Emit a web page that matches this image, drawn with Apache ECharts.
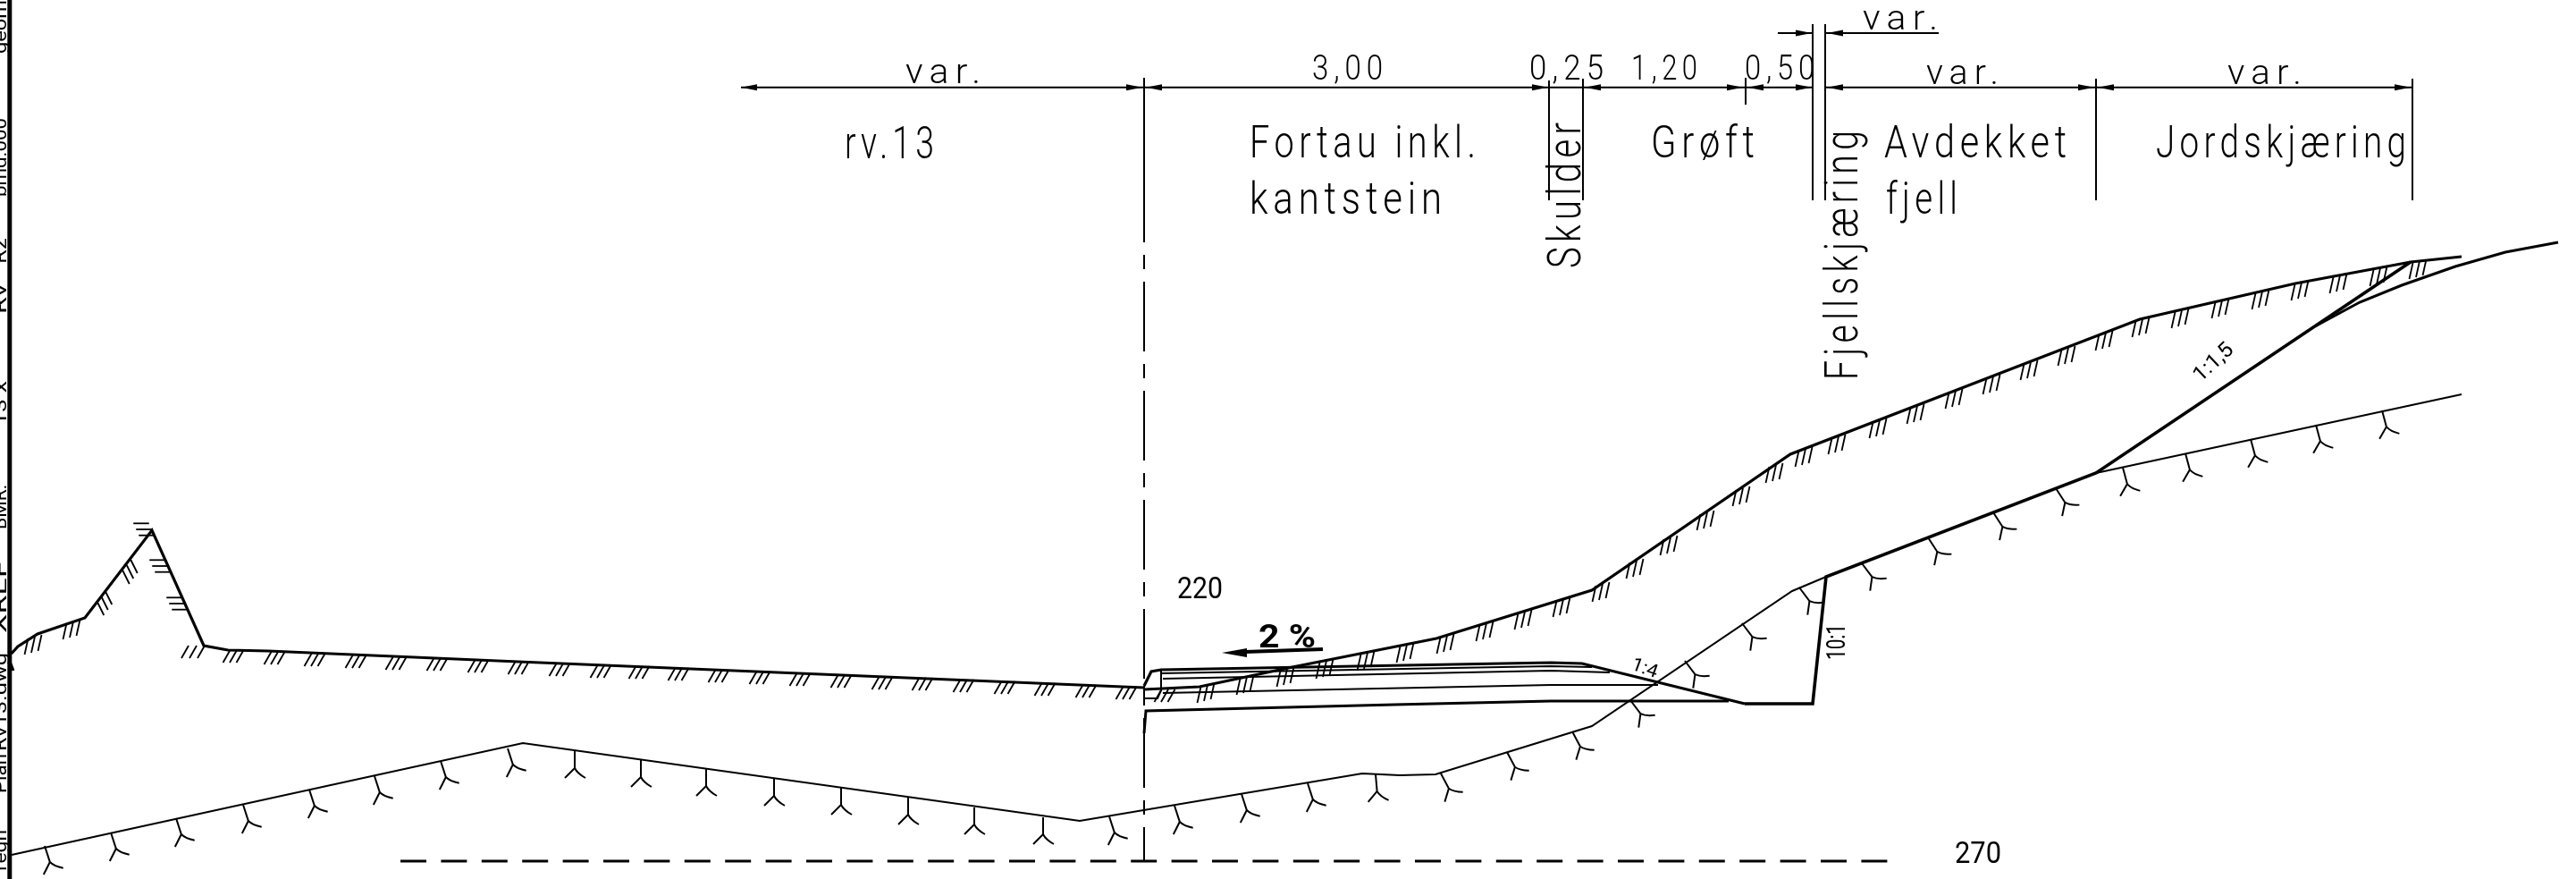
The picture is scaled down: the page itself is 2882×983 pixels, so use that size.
<!DOCTYPE html>
<html><head><meta charset="utf-8">
<style>html,body{margin:0;padding:0;background:#fff}#c{width:2882px;height:983px}</style>
<script src="https://cdn.jsdelivr.net/npm/echarts@6/dist/echarts.min.js"></script>
</head><body><div id="c"></div>
<script>
// ---- cross-section geometry (drawing units) ----
const existingGroundLeft = [[12.7,731],[20,723],[42,709],[95,691],[170,593],[228,722],[255,727],[300,728],[580,740],[1280,769]];
const existingGroundRight = [[1280,771],[1342,768],[1446,746],[1607,714],[1781,660],[2003,508],[2394,357],[2568,317],[2697,293],[2754,287]];
const existingSurfaceFar = [[2590,365],[2640,338],[2687,319],[2747,298],[2803,282],[2862,271]];
const rockLine = [[13,956],[585,831],[1208,918],[1524,865],[1566,867],[1606,866],[1781,812],[2005,661],[2043,645]];
const rockLineFar = [[2345,529],[2754,441]];
const cutSlope = [[1952,787],[2028,787],[2043,645],[2345,529],[2697,293]];
const roadTop = [[1280,767],[1288,751],[1299,749],[1735,741],[1770,742],[1952,787]];
const roadLayer1 = [[1298,753],[1735,745],[1781,746]];
const roadLayer2 = [[1301,759],[1735,750],[1801,752]];
const roadLayer3 = [[1301,775],[1735,766],[1855,766]];
const roadBottom = [[1280,820],[1282,795],[1560,788],[1735,784],[1934,784]];
const kerbBox = [[1280,767],[1280,781],[1295,781],[1299,772],[1299,750]];
const borderLine = [[10.8,0],[10.8,983]];
const borderMark = [[12,742],[15,750]];
const centreLine = [[1280,193],[1280,963]];
const baseDatum = [[448,963],[2114,963]];
const dimMain = [[829,97.7],[2028,97.7]];
const dimMainRight = [[2042,97.7],[2699,97.7]];
const dimUpperLeft = [[1989,37],[2028,37]];
const dimUpperRight = [[2042,37],[2169,37]];
const slopeArrow = [[1480,726],[1393,729]];
const extensionLines = [
  [[1280,87],[1280,224]],[[1733,90],[1733,224]],[[1771,88],[1771,224]],[[1953,87],[1953,117]],
  [[2028,27],[2028,224]],[[2042,27],[2042,224]],[[2345,88],[2345,224]],[[2699,88],[2699,224]]
];
// arrow heads: tip x, tip y, pointing direction (+1 right, -1 left)
const arrowTips = [[829,97.7,-1],[1278,97.7,1],[1282,97.7,-1],[1732,97.7,1],[1773,97.7,-1],[1950,97.7,1],[1955,97.7,-1],[2027,97.7,1],
  [2044,97.7,-1],[2343,97.7,1],[2347,97.7,-1],[2697,97.7,1],[2027,37,1],[2044,37,-1]];
const slopeArrowTip = [[1367,730,-1]];
// hatch marks on the existing ground
const hatchGentle = [[261,727],[307,729],[352,731],[398,733],[443,735],[489,736],[535,738],[580,740],[626,742],[672,744],[715,745],[759,747],[804,749],[850,751],[895,753],[941,755],[987,757],[1032,758],[1078,760],[1124,762],[1169,764],[1215,766],[1260,768],[1303,771]];
const hatchSlope = [[37,712],[80,695],[1349,766],[1393,757],[1438,748],[1482,739],[1528,730],[1572,721],[1617,711],[1661,697],[1704,684],[1747,670],[1791,653],[1829,627],[1867,601],[1908,573],[1948,546],[1985,520],[2018,502],[2055,488],[2101,470],[2143,454],[2186,437],[2228,421],[2270,405],[2312,389],[2354,372],[2395,357],[2439,347],[2484,336],[2529,326],[2573,316],[2616,308],[2661,300],[2705,292]];
const hatchSteep = [[117,667],[145.5,632]];
const hatchSideways = [[161,592],[179,633],[198,675]];
const hatchKnee = [[216,722]];
// root marks on the rock line
const rootsFalling = [[643,840],[717,850],[790,860],[866,871],[941,881],[1016,892],[1090,903],[1167,914]];
const rootsRising = [[50,946],[124,931],[197,915],[272,900],[346,883],[419,868],[493,851],[568,837],[1241,913],[1314,901],[1389,888],[1463,876]];
const rootsRisingMore = [[1612,865],[1686,841],[1759,818]];
const rootsLevel = [[1539,866]];
const rootsSteep = [[1824,783],[1885,739],[1949,697],[2013,657],[2083,630]];
const rootsCut = [[2157,601],[2230,573],[2300,546]];
const rootsFar = [[2375,523],[2445,507],[2518,491],[2591,475],[2665,459]];
// text
const textLabels = ['var.','rv.13','3,00','0,25','1,20','0,50','Fortau inkl.','kantstein','Grøft','Skulder','Fjellskjæring','Avdekket','fjell','Jordskjæring','var.','var.','var.','220','270','2 %','1:4','1:1,5','10:1','geom','bmd.000','Rz','Rv','13 x','BMR:','XREF','Rv13.dwg','Plan','Tegn'];
const textAnchors = [[1013,93],[945,177],[1468,89],[1711,89],[1825,89],[1952,89],[1398,176],[1398,239],[1847,176],[1768,300],[2078,425],[2108,176],[2110,239],[2412,176],[2155,94],[2492,94],[2084,33],[1317,669],[2187,965],[1408,724],[1824,748],[2462,428],[2064,738],[7,60],[7,220],[7,295],[7,351],[7,476],[7,592],[7,708],[7,840],[7,887],[7,978]];
// cap height, length, rotation (deg), weight
const textFit = [[28,84],[36,100],[28,79],[28,83],[28,74],[28,78],[36,253],[36,215],[36,116],[37,163,90],[37,279,90],[36,204],[36,80],[36,280],[28,81],[28,83],[28,84],[24,51,0,400],[24,52,0,400],[26,64,0,700],[15,30,-20,400],[17,52,43,400],[21,40,90,400],[14,60,90,400],[14,88,90,400],[14,29,90,400],[14,34,90,400],[14,50,90,400],[14,50,90,400],[14,81,90,400],[14,110,90,400],[14,44,90,400],[14,50,90,400]];

const FONT='Roboto', BASEW=300, INK='#000', SPACED=7;
const ctx=document.createElement('canvas').getContext('2d');
function fit(label,cap,len,w,ls){
  ctx.letterSpacing=ls+'px';
  ctx.font=w+' 100px '+FONT; ctx.textBaseline='middle';
  const H=ctx.measureText('H'); const off=H.actualBoundingBoxDescent;
  const capR=(H.actualBoundingBoxAscent+H.actualBoundingBoxDescent)/100;
  const fs=cap/capR;
  ctx.font=w+' '+fs+'px '+FONT;
  const m=ctx.measureText(label);
  return {fs,off:off*fs/100,sx:len/(m.width-ls)};
}
const chart=echarts.init(document.getElementById('c'),null,{renderer:'canvas'});
// The spaced labels get their own canvas layer, so the letter spacing of the drafting font stays on them alone.
const spacedLayer=chart.getZr().painter.getLayer(1);
if(spacedLayer&&spacedLayer.ctx)spacedLayer.ctx.letterSpacing=SPACED+'px';
function line(data,width,extra){return {type:'line',data,symbol:'none',silent:true,animation:false,clip:false,z:2,
  lineStyle:{width,color:INK,type:(extra&&extra.dash)||'solid',cap:'butt',join:'miter'}};}
function hatch(data,vec,step,width){return {type:'custom',data,silent:true,clip:false,animation:false,encode:{x:0,y:1},z:1,
  renderItem(p,api){const c=api.coord([api.value(0),api.value(1)]);const ch=[];
    for(let i=-1;i<=1;i++){const sx=c[0]-vec[0]/2+i*step[0],sy=c[1]+i*step[1];
      ch.push({type:'line',shape:{x1:sx,y1:sy,x2:sx+vec[0],y2:sy+vec[1]},style:{stroke:INK,lineWidth:width||1.8}});}
    return {type:'group',children:ch};}};}
function roots(data,tiltDeg){const t=tiltDeg*Math.PI/180,C=Math.cos(t),S=Math.sin(t);
  const r=(x,y)=>[x*C+y*S,-x*S+y*C];
  return {type:'custom',data,silent:true,clip:false,animation:false,encode:{x:0,y:1},z:1,
  renderItem(p,api){const c=api.coord([api.value(0),api.value(1)]);
    const P=(x,y)=>{const q=r(x,y);return [c[0]+q[0],c[1]+q[1]];};
    const st={stroke:INK,lineWidth:2,fill:null};
    const f=P(0,19),l=P(-11,30),rr=P(12,30),cp=P(0,9),cp2=P(3,25),o=P(0,0);
    return {type:'group',children:[
      {type:'bezierCurve',shape:{x1:o[0],y1:o[1],x2:f[0],y2:f[1],cpx1:cp[0],cpy1:cp[1]},style:st},
      {type:'bezierCurve',shape:{x1:f[0],y1:f[1],x2:rr[0],y2:rr[1],cpx1:cp2[0],cpy1:cp2[1]},style:st},
      {type:'line',shape:{x1:f[0],y1:f[1],x2:l[0],y2:l[1]},style:st}]};}};}
function arrows(data,len,half){return {type:'custom',data,silent:true,clip:false,animation:false,encode:{x:0,y:1},z:3,
  renderItem(p,api){const c=api.coord([api.value(0),api.value(1)]),d=api.value(2);
    return {type:'polygon',shape:{points:[[c[0],c[1]],[c[0]-d*len,c[1]-half],[c[0]-d*len,c[1]+half]]},style:{fill:INK}};}};}
function textSeries(spaced){
  const rows=textAnchors.map((a,i)=>[a[0],a[1],i]).filter(r=>((textFit[r[2]][3]||BASEW)===BASEW)===spaced);
  return {type:'custom',data:rows,silent:true,clip:false,animation:false,encode:{x:0,y:1},z:5,zlevel:spaced?1:0,
  renderItem(p,api){const i=api.value(2),c=api.coord([api.value(0),api.value(1)]);
    const [cap,len,rot=0,w=BASEW]=textFit[i];const f=fit(textLabels[i],cap,len,w,spaced?SPACED:0);
    return {type:'text',x:c[0],y:c[1],rotation:rot*Math.PI/180,scaleX:f.sx,scaleY:1,originX:0,originY:0,
      style:{text:textLabels[i],x:0,y:-f.off,font:w+' '+f.fs+'px '+FONT,fill:INK,align:'left',verticalAlign:'middle'}};}};
}
const series=[
  line(borderLine,5),line(borderMark,3),
  line(existingGroundLeft,3.2),line(existingGroundRight,3.2),line(existingSurfaceFar,3),
  line(rockLine,2),line(rockLineFar,2),line(cutSlope,3.6),
  line(roadTop,3.2),line(roadLayer1,2),line(roadLayer2,2),line(roadLayer3,2),line(roadBottom,3),line(kerbBox,2),
  line(centreLine,2,{dash:[78,14,16,14]}),line(baseDatum,3,{dash:[29,16.4]}),
  line(dimMain,2),line(dimMainRight,2),line(dimUpperLeft,2),line(dimUpperRight,2),line(slopeArrow,4),
  ...extensionLines.map(e=>line(e,2)),
  arrows(arrowTips,18,3.5),arrows(slopeArrowTip,28,5),
  hatch(hatchGentle,[-8,14],[7.5,0]),hatch(hatchSlope,[-4,18],[7.5,-2]),hatch(hatchSteep,[7.5,15],[-4.5,6]),
  hatch(hatchSideways,[-17.5,0],[3,6.7]),hatch(hatchKnee,[-8,14],[9,0]),
  roots(rootsFalling,0),roots(rootsRising,18),roots(rootsRisingMore,28),roots(rootsLevel,5),roots(rootsSteep,37),roots(rootsCut,33),roots(rootsFar,15),
  textSeries(true),textSeries(false)
];
chart.setOption({animation:false,backgroundColor:'#fff',
  grid:{left:0,right:0,top:0,bottom:0,containLabel:false},
  xAxis:{type:'value',min:0,max:2882,show:false,scale:true},
  yAxis:{type:'value',min:0,max:983,inverse:true,show:false,scale:true},
  tooltip:{show:false},legend:{show:false},series});
</script></body></html>
